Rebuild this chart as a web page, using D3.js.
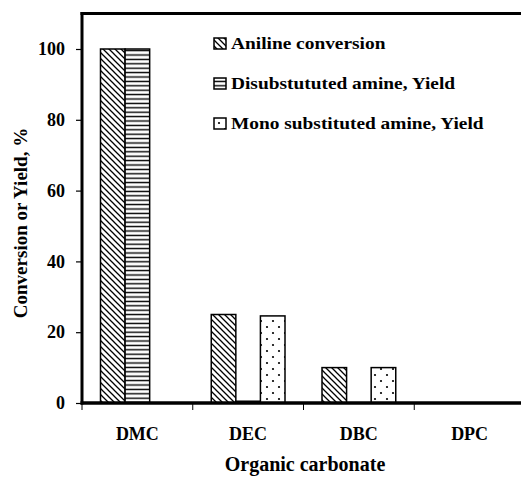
<!DOCTYPE html>
<html>
<head>
<meta charset="utf-8">
<script src="https://cdn.jsdelivr.net/npm/d3@7"></script>
<style>
  body { margin: 0; background: #fff; }
  svg text { font-family: "Liberation Serif", "Times New Roman", serif; font-weight: bold; fill: #000; }
</style>
</head>
<body>
<div id="chart"></div>
<script>
const categories = ["DMC", "DEC", "DBC", "DPC"];
const seriesNames = ["Aniline conversion", "Disubstututed amine, Yield", "Mono substituted amine, Yield"];
const aniline = [100, 25, 10, 0];
const disubstituted = [100, 0.5, 0, 0];
const mono = [0, 24.6, 10, 0];
const yTicks = [0, 20, 40, 60, 80, 100];

const seriesValues = [aniline, disubstituted, mono];
const patternIds = ["hatchDiag", "hatchHoriz", "dots"];

const width = 521, height = 477;
const margin = { top: 13.6, right: -4, bottom: 74, left: 82 };

const svg = d3.select("#chart").append("svg")
  .attr("width", width)
  .attr("height", height);

// patterns
const defs = svg.append("defs");

const diag = defs.append("pattern")
  .attr("id", "hatchDiag")
  .attr("patternUnits", "userSpaceOnUse")
  .attr("width", 6).attr("height", 6);
diag.append("rect").attr("width", 6).attr("height", 6).attr("fill", "#fff");
diag.append("path")
  .attr("d", "M0,0L6,6M-1,5L1,7M5,-1L7,1")
  .attr("stroke", "#000").attr("stroke-width", 1.3);

const horiz = defs.append("pattern")
  .attr("id", "hatchHoriz")
  .attr("patternUnits", "userSpaceOnUse")
  .attr("width", 6).attr("height", 4.4);
horiz.append("rect").attr("width", 6).attr("height", 4.4).attr("fill", "#fff");
horiz.append("line")
  .attr("x1", 0).attr("x2", 6).attr("y1", 2.2).attr("y2", 2.2)
  .attr("stroke", "#000").attr("stroke-width", 1.4);

const dots = defs.append("pattern")
  .attr("id", "dots")
  .attr("patternUnits", "userSpaceOnUse")
  .attr("width", 12).attr("height", 12);
dots.append("rect").attr("width", 12).attr("height", 12).attr("fill", "#fff");
dots.append("circle").attr("cx", 3).attr("cy", 3).attr("r", 1.1).attr("fill", "#000");
dots.append("circle").attr("cx", 9).attr("cy", 9).attr("r", 1.1).attr("fill", "#000");

const x0 = d3.scaleBand(categories, [margin.left, width - margin.right]);
const y = d3.scaleLinear([0, 110], [height - margin.bottom, margin.top]);
const bw = x0.bandwidth();
const x1 = d3.scaleBand([0, 1, 2], [18.5, bw - 18.5]);

// bars
seriesValues.forEach((vals, si) => {
  svg.append("g")
    .selectAll("rect")
    .data(vals)
    .join("rect")
    .attr("x", (d, i) => x0(categories[i]) + x1(si))
    .attr("y", d => y(d))
    .attr("width", x1.bandwidth())
    .attr("height", d => y(0) - y(d))
    .attr("fill", `url(#${patternIds[si]})`)
    .attr("stroke", d => d > 0 ? "#000" : "none")
    .attr("stroke-width", 1.5);
});

// frame top
svg.append("line")
  .attr("x1", margin.left - 1.5).attr("x2", width + 10)
  .attr("y1", y(110)).attr("y2", y(110))
  .attr("stroke", "#000").attr("stroke-width", 3);

// y axis
const yAxis = svg.append("g")
  .attr("transform", `translate(${margin.left},0)`)
  .call(d3.axisLeft(y).tickValues(yTicks).tickSize(6).tickPadding(11));
yAxis.select(".domain")
  .attr("d", `M0,${y(0) + 1.5}V${y(110) - 1.5}`)
  .attr("stroke-width", 3);
yAxis.selectAll(".tick line").attr("stroke-width", 1.2);
yAxis.selectAll(".tick text")
  .attr("font-size", 18)
  .style("font-family", "Liberation Serif, serif")
  .style("font-weight", "bold");

// x axis
svg.append("line")
  .attr("x1", margin.left - 1.5).attr("x2", width + 10)
  .attr("y1", y(0)).attr("y2", y(0))
  .attr("stroke", "#000").attr("stroke-width", 3.5);

svg.append("g")
  .selectAll("line")
  .data(categories)
  .join("line")
  .attr("x1", d => x0(d)).attr("x2", d => x0(d))
  .attr("y1", y(0)).attr("y2", y(0) + 7)
  .attr("stroke", "#000").attr("stroke-width", 1);

svg.append("g")
  .selectAll("text")
  .data(categories)
  .join("text")
  .attr("x", d => x0(d) + bw / 2)
  .attr("y", y(0) + 37)
  .attr("text-anchor", "middle")
  .attr("font-size", 18)
  .text(d => d);

// axis titles
svg.append("text")
  .attr("x", 305)
  .attr("y", 471)
  .attr("text-anchor", "middle")
  .attr("font-size", 20)
  .text("Organic carbonate");

svg.append("text")
  .attr("transform", `translate(27,223) rotate(-90)`)
  .attr("text-anchor", "middle")
  .attr("font-size", 19)
  .text("Conversion or Yield, %");

// legend
const legend = svg.append("g");
seriesNames.forEach((name, i) => {
  const ly = 38 + i * 40;
  legend.append("rect")
    .attr("x", 214).attr("y", ly)
    .attr("width", 12).attr("height", 11)
    .attr("fill", `url(#${patternIds[i]})`)
    .attr("stroke", "#000").attr("stroke-width", 1.5);
  legend.append("text")
    .attr("transform", `translate(231,${ly + 11}) scale(1.14,1)`)
    .attr("font-size", 17)
    .text(name);
});
</script>
</body>
</html>
